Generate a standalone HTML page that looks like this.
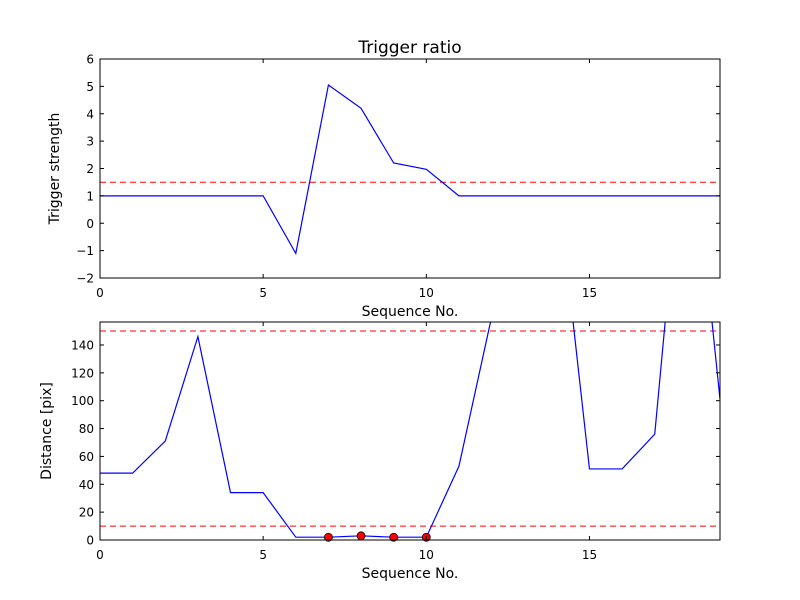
<!DOCTYPE html>
<html><head><meta charset="utf-8"><style>
body{margin:0;background:#fff}
svg{display:block;font-family:"DejaVu Sans","Liberation Sans",sans-serif}
</style></head><body>
<svg id="fig" width="800" height="600" viewBox="0 0 800 600" xmlns="http://www.w3.org/2000/svg">
<rect width="800" height="600" fill="#fff"/>
</svg>
<script>
const seqTop = [0,1,2,3,4,5,6,7,8,9,10,11,12,13,14,15,16,17,18,19];
const strength = [1,1,1,1,1,1,-1.1,5.05,4.2,2.2,1.97,1,1,1,1,1,1,1,1,1];
const strengthThreshold = [1.5];
const topYTicks = [-2,-1,0,1,2,3,4,5,6];
const xTicks = [0,5,10,15];
const distance = [48,48,71,146,34,34,2,2,3,2,2,53,160,200,261,51,51,76,328,101];
const dotSeq = [7,8,9,10];
const dotDist = [2,3,2,2];
const distThresholds = [10,150];
const botYTicks = [0,20,40,60,80,100,120,140];

const NS="http://www.w3.org/2000/svg";
const svgRoot=document.getElementById('fig');
function mk(tag,attrs,parent){const e=document.createElementNS(NS,tag);for(const k in attrs)e.setAttribute(k,attrs[k]);(parent||svgRoot).appendChild(e);return e;}

function panel(cfg){
  const {x0,x1,y0,y1,xmin,xmax,ymin,ymax,name}=cfg;
  const sx=v=>x0+(v-xmin)/(xmax-xmin)*(x1-x0);
  const sy=v=>y1-(v-ymin)/(ymax-ymin)*(y1-y0);
  const g=mk('g',{});
  
  
  const cp=mk('clipPath',{id:name+'-clip'},g);
  mk('rect',{x:x0,y:y0,width:x1-x0,height:y1-y0},cp);
  return Object.assign({g,sx,sy,clip:'url(#'+name+'-clip)'},cfg);
}
function frame(p,yTicks,yLabel,xLabel,title){
  const {g,sx,sy,x0,x1,y0,y1}=p;
  xTicks.forEach(v=>{
    const x=sx(v);
    const t=mk('line',{x1:x,x2:x,y1:y1,y2:y1-4,stroke:'#000'},g);
    
    
    mk('line',{x1:x,x2:x,y1:y0,y2:y0+4,stroke:'#000'},g);
    const l=mk('text',{x:x,y:y1+19,'text-anchor':'middle','font-size':'12'},g);
    l.textContent=v;
    
    
  });
  yTicks.forEach(v=>{
    const y=sy(v);
    const t=mk('line',{x1:x0,x2:x0+4,y1:y,y2:y,stroke:'#000'},g);
    
    
    mk('line',{x1:x1,x2:x1-4,y1:y,y2:y,stroke:'#000'},g);
    const l=mk('text',{x:x0-6,y:y+4.5,'text-anchor':'end','font-size':'12'},g);
    l.textContent=(v<0?'\u2212'+(-v):v);
    
    
  });
  const r=mk('rect',{x:x0,y:y0,width:x1-x0,height:y1-y0,fill:'none',stroke:'#000'},g);
  
  
  const xl=mk('text',{x:(x0+x1)/2,y:y1+38,'text-anchor':'middle','font-size':'14'},g);
  xl.textContent=xLabel;
  
  
  const cy=(y0+y1)/2;
  const yl=mk('text',{x:0,y:0,'text-anchor':'middle','font-size':'14',transform:'translate('+p.ylabX+','+cy+') rotate(-90)'},g);
  yl.textContent=yLabel;
  
  
  if(title){
    const tt=mk('text',{x:(x0+x1)/2,y:y0-6,'text-anchor':'middle','font-size':'17'},g);
    tt.textContent=title;
    
    
  }
}
function hline(p,v,name){
  const l=mk('line',{x1:p.x0,x2:p.x1,y1:p.sy(v),y2:p.sy(v),stroke:'#f00','stroke-dasharray':'6,4','clip-path':p.clip},p.g);
  
  
}
function series(p,xs,ys,name){
  const pts=xs.map((x,i)=>p.sx(x).toFixed(2)+','+p.sy(ys[i]).toFixed(2)).join(' ');
  const l=mk('polyline',{points:pts,fill:'none',stroke:'#00f','stroke-width':'1.2','clip-path':p.clip},p.g);
  
  
}

const topPanel=panel({name:'trigger-panel',x0:100,x1:720,y0:59,y1:278,xmin:0,xmax:19,ymin:-2,ymax:6,ylabX:59});
strengthThreshold.forEach(v=>hline(topPanel,v,'threshold-line'));
series(topPanel,seqTop,strength,'trigger-strength-line');
frame(topPanel,topYTicks,'Trigger strength','Sequence No.','Trigger ratio');

const botPanel=panel({name:'distance-panel',x0:100,x1:720,y0:322,y1:540,xmin:0,xmax:19,ymin:0,ymax:156.5,ylabX:51});
distThresholds.forEach(v=>hline(botPanel,v,'distance-threshold-line'));
series(botPanel,seqTop,distance,'distance-line');
dotSeq.forEach((x,i)=>{
  const c=mk('circle',{cx:botPanel.sx(x),cy:botPanel.sy(dotDist[i]),r:4,fill:'#f00',stroke:'#000','stroke-width':'0.8'},botPanel.g);
  
  
});
frame(botPanel,botYTicks,'Distance [pix]','Sequence No.',null);
</script>
</body></html>
